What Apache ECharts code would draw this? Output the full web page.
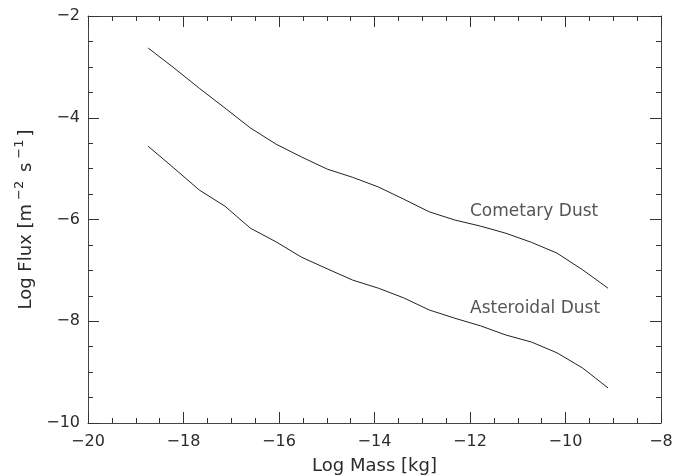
<!DOCTYPE html>
<html>
<head>
<meta charset="utf-8">
<script src="https://cdn.jsdelivr.net/npm/echarts@6/dist/echarts.min.js"></script>
<style>
  html, body { margin: 0; padding: 0; background: #ffffff; }
  #chart { width: 686px; height: 476px; }
</style>
</head>
<body>
<div id="chart"></div>
<script>
// Log of particle mass [kg] at which the flux models are sampled
const logMass = [-18.74, -18.20, -17.67, -17.13, -16.60, -16.06, -15.53, -14.99, -14.46,
                 -13.92, -13.39, -12.85, -12.32, -11.78, -11.25, -10.71, -10.18, -9.64, -9.11];

// Log cumulative flux [m^-2 s^-1]
const cometaryFlux = [-2.63, -3.02, -3.42, -3.81, -4.20, -4.52, -4.77, -5.01, -5.17,
                      -5.36, -5.60, -5.85, -6.01, -6.13, -6.27, -6.45, -6.66, -6.99, -7.35];
const asteroidalFlux = [-4.56, -4.99, -5.42, -5.74, -6.17, -6.44, -6.74, -6.97, -7.19,
                        -7.35, -7.54, -7.78, -7.94, -8.09, -8.27, -8.41, -8.62, -8.92, -9.31];

// Axis ranges and major tick spacing
const xRange = [-20, -8];
const yRange = [-10, -2];
const majorStep = 2;

// Curve captions and where their left edges sit (data coordinates)
const curveNames = ['Cometary Dust', 'Asteroidal Dust'];
const captionAnchors = [[-12.0, -5.85], [-12.0, -7.76]];

const FONT = 'DejaVu Sans';
const TEXT = '#2b2b2b';
const INK = '#222';
const minus = v => String(v).replace('-', '\u2212');

function pairs(xs, ys) { return xs.map((x, i) => [x, ys[i]]); }

function axisBase(range, showLabels, position) {
  return {
    type: 'value',
    min: range[0], max: range[1], interval: majorStep,
    position: position,
    axisLine: { show: true, onZero: false, lineStyle: { color: '#444', width: 1 } },
    axisTick: { show: true, inside: true, length: 11, lineStyle: { color: '#333', width: 1 } },
    minorTick: { show: true, splitNumber: 4, length: 5, lineStyle: { color: '#333', width: 1 } },
    splitLine: { show: false },
    axisLabel: {
      show: showLabels, formatter: minus,
      fontFamily: FONT, fontSize: 16, color: TEXT
    }
  };
}

const xBottom = Object.assign(axisBase(xRange, true, 'bottom'), {
  name: 'Log Mass [kg]', nameLocation: 'middle', nameGap: 34,
  nameTextStyle: { fontFamily: FONT, fontSize: 18, color: TEXT }
});
xBottom.axisLabel.margin = 11;
const xTop = axisBase(xRange, false, 'top');

const yLeft = Object.assign(axisBase(yRange, true, 'left'), {
  name: '{n|Log Flux [m}{s|\u22122}{n| s}{s|\u22121}{n|]}',
  nameLocation: 'middle', nameGap: 52, nameRotate: 90,
  nameTextStyle: {
    fontFamily: FONT, fontSize: 18, color: TEXT,
    rich: {
      n: { fontFamily: FONT, fontSize: 18, color: TEXT, verticalAlign: 'bottom', lineHeight: 24 },
      s: { fontFamily: FONT, fontSize: 13, color: TEXT, verticalAlign: 'bottom', lineHeight: 24,
           padding: [0, 3, 9, 4] }
    }
  }
});
yLeft.axisLabel.margin = 8;
const yRight = axisBase(yRange, false, 'right');

const chart = echarts.init(document.getElementById('chart'), null, { renderer: 'canvas' });
chart.setOption({
  backgroundColor: '#ffffff',
  animation: false,
  grid: { left: 88, right: 25, top: 16, bottom: 53, containLabel: false, outerBoundsMode: 'none' },
  xAxis: [xBottom, xTop],
  yAxis: [yLeft, yRight],
  series: [
    {
      name: curveNames[0], type: 'line', xAxisIndex: 0, yAxisIndex: 0,
      data: pairs(logMass, cometaryFlux), showSymbol: false, symbol: 'none',
      lineStyle: { color: INK, width: 1 }
    },
    {
      name: curveNames[1], type: 'line', xAxisIndex: 0, yAxisIndex: 0,
      data: pairs(logMass, asteroidalFlux), showSymbol: false, symbol: 'none',
      lineStyle: { color: INK, width: 1 }
    },
    {
      name: 'captions', type: 'scatter', xAxisIndex: 0, yAxisIndex: 0,
      symbolSize: 0, silent: true,
      data: captionAnchors.map((p, i) => ({ value: p, name: curveNames[i] })),
      label: {
        show: true, position: 'right', distance: 0,
        formatter: p => p.name,
        fontFamily: FONT, fontSize: 17, color: TEXT
      }
    }
  ]
});
</script>
</body>
</html>
